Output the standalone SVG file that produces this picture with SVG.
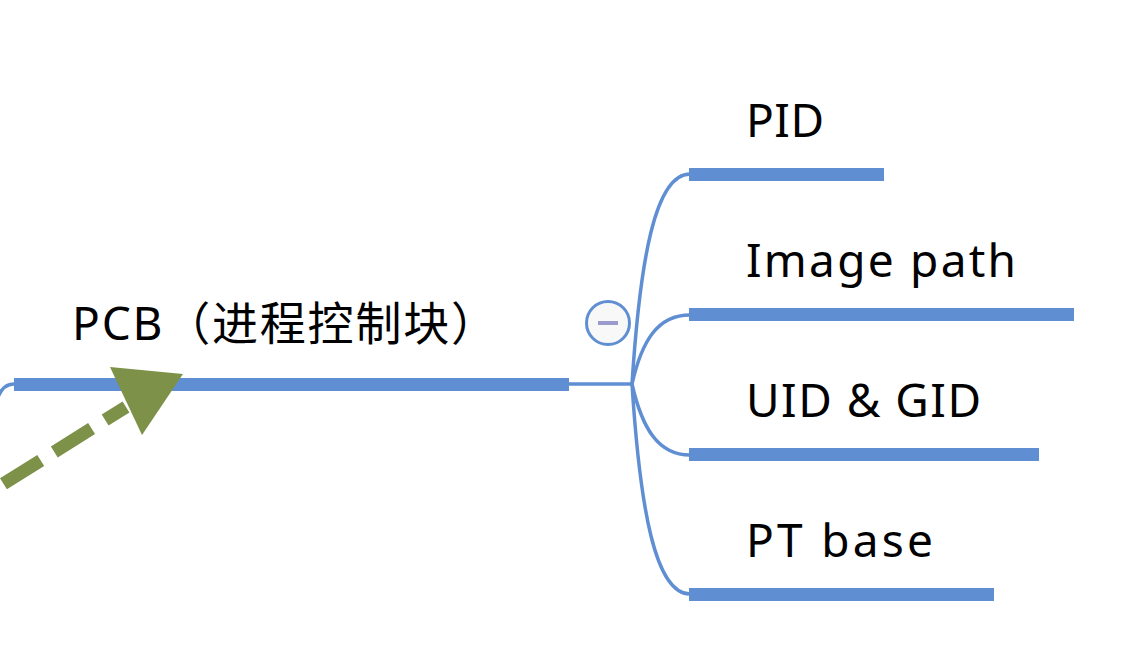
<svg xmlns="http://www.w3.org/2000/svg" width="1130" height="658" viewBox="0 0 1130 658">
<defs>
<style>
.lbl{font-family:"Noto Sans","Noto Sans CJK SC",sans-serif;font-size:46px;fill:#000}
.bar{fill:#5f8fd2}
.ln{fill:none;stroke:#5f8fd2;stroke-width:3.5}
</style>
</defs>
<rect width="1130" height="658" fill="#fff"/>
<g id="connectors">
<path class="ln" d="M14,384 Q2,384 -3,400"/>
<path class="ln" d="M565,384 L632,384"/>
<path class="ln" d="M632,384 C640,260 655,174 690,174"/>
<path class="ln" d="M632,384 C642,340 658,315 690,315"/>
<path class="ln" d="M632,384 C642,428 658,455 690,455"/>
<path class="ln" d="M632,384 C640,508 655,594 690,594"/>
</g>
<g id="node-pcb">
<rect class="bar" x="14" y="378" width="555" height="13"/>
<text class="lbl" x="72" y="340" textLength="425" lengthAdjust="spacing">PCB（进程控制块）</text>
</g>
<g id="collapse">
<circle cx="608" cy="323" r="21.5" fill="#f8f8f8" stroke="#5f8fd2" stroke-width="3"/>
<line x1="598" y1="323" x2="618" y2="323" stroke="#9a9acb" stroke-width="4"/>
</g>
<g id="node-pid">
<rect class="bar" x="689" y="168" width="195" height="13"/>
<text class="lbl" x="746" y="137" textLength="78" lengthAdjust="spacing">PID</text>
</g>
<g id="node-image">
<rect class="bar" x="689" y="308" width="385" height="13"/>
<text class="lbl" x="746" y="277" textLength="270" lengthAdjust="spacing">Image path</text>
</g>
<g id="node-uid">
<rect class="bar" x="689" y="448" width="350" height="13"/>
<text class="lbl" x="746" y="417" textLength="235" lengthAdjust="spacing">UID &amp; GID</text>
</g>
<g id="node-pt">
<rect class="bar" x="689" y="588" width="305" height="13"/>
<text class="lbl" x="746" y="557" textLength="187" lengthAdjust="spacing">PT base</text>
</g>
<g id="arrow">
<path d="M-47.4,515.6 L126,407" fill="none" stroke="#7e9149" stroke-width="13" stroke-dasharray="44 16"/>
<polygon points="110,367 183,374 142,435" fill="#7e9149"/>
</g>
</svg>
